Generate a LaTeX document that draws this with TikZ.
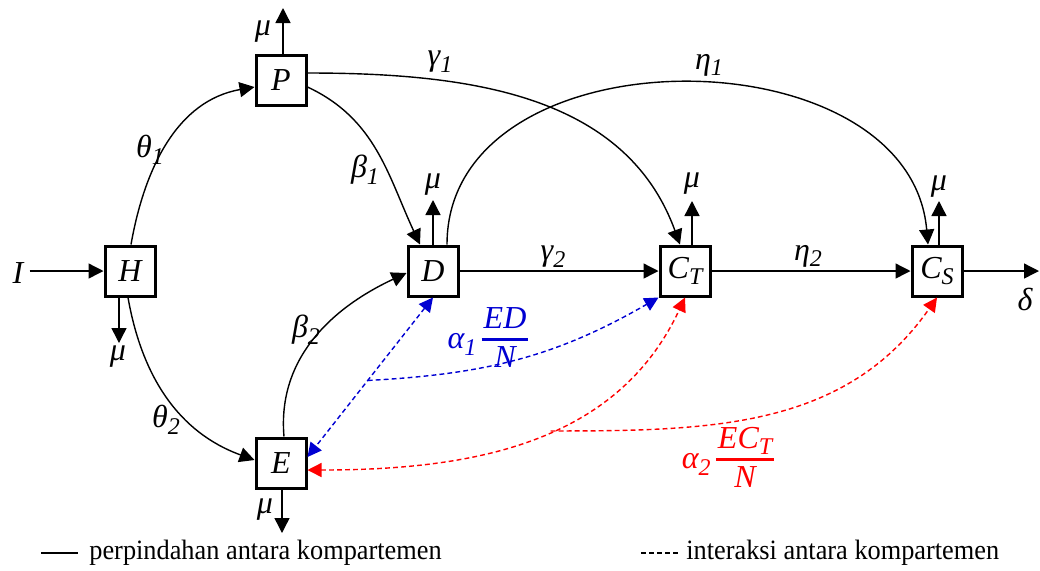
\documentclass[tikz,border=0pt]{standalone}
\usepackage{fontspec}
\setmainfont{Liberation Serif}
\usetikzlibrary{arrows.meta,calc}
\definecolor{myblue}{RGB}{0,0,210}
\definecolor{myred}{RGB}{255,0,0}
\newcommand{\lsub}[1]{\raisebox{-0.45ex}{\fontsize{12}{12}\selectfont #1}}
\newcommand{\myfr}[2]{{\setlength{\arrayrulewidth}{1.5pt}\begin{tabular}{@{\hspace{1pt}}c@{\hspace{1pt}}}#1\\[-1pt]\hline #2\end{tabular}}}
\begin{document}
\begin{tikzpicture}[x=0.5pt,y=-0.5pt,
  every node/.style={font=\fontsize{16}{19}\selectfont\itshape},
  box/.style={draw, line width=1.5pt, minimum size=25pt, inner sep=0pt, fill=white},
  tip/.style={-{Triangle[length=7.5pt,width=7.5pt]}},
  arr/.style={line width=0.7pt, tip},
  lbl/.style={inner sep=0pt},
  bd/.style={myblue, line width=0.7pt, dash pattern=on 2.4pt off 1.6pt},
  rd/.style={myred, line width=0.7pt, dash pattern=on 2.4pt off 1.6pt},
  dtip/.style={{Triangle[length=7pt,width=7pt]}-{Triangle[length=7pt,width=7pt]}},
  stip/.style={-{Triangle[length=7pt,width=7pt]}},
  leg/.style={font=\fontsize{14}{16}\selectfont, inner sep=0pt, anchor=west}]
\useasboundingbox (0,0) rectangle (1040,570);

% compartments
\node[box] (H) at (130,271) {H};
\node[box] (P) at (281,80) {P};
\node[box] (D) at (433,271) {D};
\node[box] (CT) at (685,271) {C\lsub{T}};
\node[box] (CS) at (937,271) {C\lsub{S}};
\node[box] (E) at (281,463) {E};

% input
\node[lbl] (I) at (18,273) {I};
\draw[arr] ($(I.east)+(6,-2)$) -- (H.west);

% mu outflows
\coordinate (Hm) at (119,343);
\coordinate (Pm) at (283,8);
\coordinate (Dm) at (433,200);
\coordinate (CTm) at (692,201);
\coordinate (CSm) at (939,201);
\coordinate (Em) at (282,533);
\draw[arr] (H.south -| Hm) -- (Hm);
\draw[arr] (P.north -| Pm) -- (Pm);
\draw[arr] (D.north -| Dm) -- (Dm);
\draw[arr] (CT.north -| CTm) -- (CTm);
\draw[arr] (CS.north -| CSm) -- (CSm);
\draw[arr] (E.south -| Em) -- (Em);
\node[lbl] (mH) at (118,357) {μ};
\node[lbl] (mP) at (263,32) {μ};
\node[lbl] (mD) at (433,185) {μ};
\node[lbl] (mCT) at (692,184) {μ};
\node[lbl] (mCS) at (939,187) {μ};
\node[lbl] (mE) at (265,510) {μ};

% outflow delta
\coordinate (dend) at (1039,271);
\draw[arr] (CS.east) -- (dend);
\node[lbl] (delta) at (1025,299) {δ};

% transitions
\draw[arr] ($(H.north)+(1,0)$) to[out=80,in=190] ($(P.west)+(0,7)$);
\draw[arr] ($(H.south)+(-2,0)$) to[out=-80,in=160] ($(E.west)+(0,-3)$);
\draw[arr] ($(P.east)+(0,7)$) to[out=-25,in=115] ($(D.north)+(-13,0)$);
\draw[arr] ($(P.east)+(0,-7)$) to[out=0,in=110] ($(CT.north)+(-5,0)$);
\draw[arr] ($(D.north)+(14,0)$) to[out=90,in=95,looseness=1.15] ($(CS.north)+(-9,0)$);
\draw[arr] ($(E.north)+(3,0)$) to[out=95,in=205] ($(D.west)+(0,2)$);
\draw[arr] (D.east) -- (CT.west);
\draw[arr] (CT.east) -- (CS.west);

% labels
\node[lbl] (t1) at (150,150) {θ\lsub{1}};
\node[lbl] (t2) at (166,420) {θ\lsub{2}};
\node[lbl] (b1) at (365,170) {β\lsub{1}};
\node[lbl] (b2) at (306,330) {β\lsub{2}};
\node[lbl] (g1) at (440,62) {γ\lsub{1}};
\node[lbl] (e1) at (709,65) {η\lsub{1}};
\node[lbl] (g2) at (553,257) {γ\lsub{2}};
\node[lbl] (e2) at (808,256) {η\lsub{2}};

% interactions (blue)
\draw[bd, dtip] (D.south) -- coordinate[pos=0.52] (b) ($(E.east)+(0,-6)$);
\draw[bd, stip] (b) to[out=3,in=-150] (CT.south west);
\node[lbl, text=myblue] (a1) at (488,340) {α\lsub{1}\,\myfr{ED}{N}};

% interactions (red)
\draw[rd, dtip] ($(E.east)+(0,7)$) to[out=0,in=-115] coordinate[pos=0.55] (r) (CT.south);
\draw[rd, stip] (r) to[out=0,in=-125] (CS.south);
\node[lbl, text=myred] (a2) at (728,460) {α\lsub{2}\,\myfr{EC\lsub{T}}{N}};

% legend
\coordinate (l1a) at (41,553);
\coordinate (l1b) at (78,553);
\draw[line width=0.7pt] (l1a) -- (l1b);
\node[leg] (leg1) at (89,553) {\scalebox{0.94}[1]{perpindahan antara kompartemen}};
\coordinate (l2a) at (641,553);
\coordinate (l2b) at (678,553);
\draw[line width=0.7pt, dash pattern=on 2.5pt off 1.5pt] (l2a) -- (l2b);
\node[leg] (leg2) at (686,553) {\scalebox{0.94}[1]{interaksi antara kompartemen}};
\end{tikzpicture}
\end{document}
